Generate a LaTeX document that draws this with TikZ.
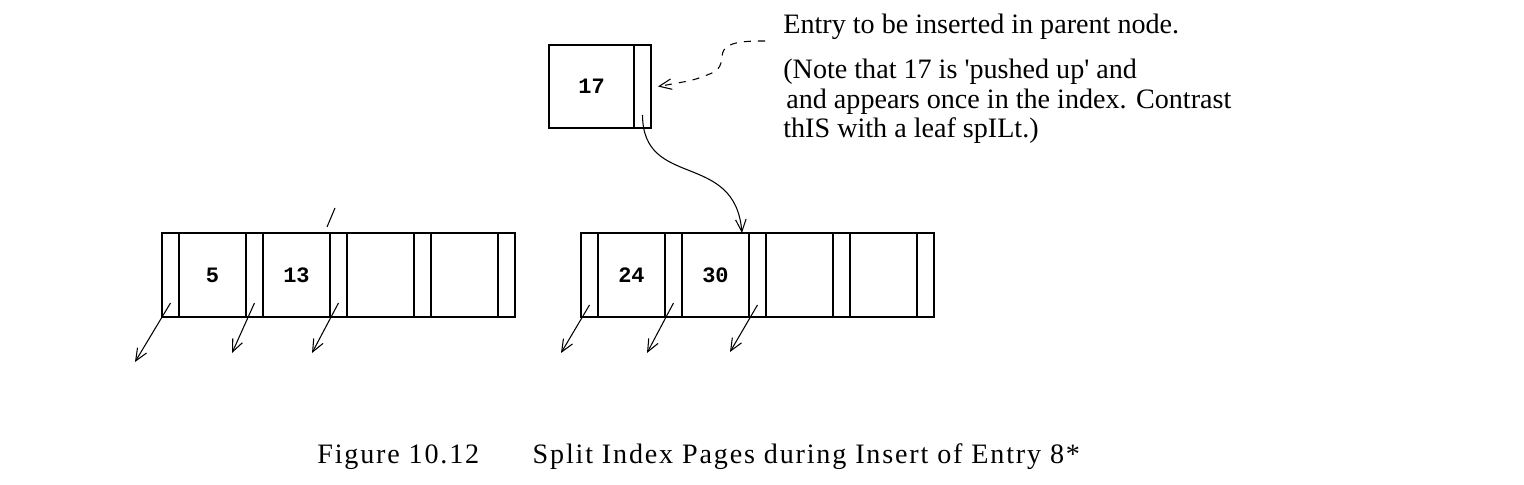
\documentclass[tikz,border=0pt]{standalone}
\usepackage{fontspec}
\setmainfont{Liberation Serif}
\newfontfamily\keyfont{Liberation Mono}
\newfontfamily\capfont[LetterSpace=6.5]{Liberation Serif}
\usepackage{tikz}
\usetikzlibrary{arrows.meta,positioning}
\tikzset{
ptr/.style = {rectangle, draw=black, line width=0.7pt, minimum width=0.34cm,
              minimum height=#1, inner sep=0pt, outer sep=0pt},
ptr/.default = 1.68cm % height of a page
}
\tikzset{
key/.style = {rectangle, draw=black, line width=0.7pt, minimum width=1.34cm,
              minimum height=#1, inner sep=0pt, outer sep=0pt,
              font=\keyfont\bfseries\fontsize{12.5}{14}\selectfont},
key/.default = 1.68cm
}
\tikzset{
child/.style = {-{Straight Barb[length=7pt,width=6pt]}, line width=0.6pt},
note/.style = {anchor=base west, inner sep=0pt, font=\fontsize{16}{19}\selectfont}
}

\begin{document}
\begin{tikzpicture}[x=0.02cm, y=-0.02cm]
    \useasboundingbox (0,0) rectangle (1524,484);

    % entry pushed up
    \node[key=1.66cm, minimum width=1.70cm] (tk) at (591.5,86.5) {17};
    \node[ptr=1.66cm, right=0pt of tk] (tp) {};

    % left index page
    \node[ptr, anchor=west] (lp1) at (162,275) {};
    \node[key, right=0pt of lp1] (lk1) {5};
    \node[ptr, right=0pt of lk1] (lp2) {};
    \node[key, right=0pt of lp2] (lk2) {13};
    \node[ptr, right=0pt of lk2] (lp3) {};
    \node[key, right=0pt of lp3] (lk3) {};
    \node[ptr, right=0pt of lk3] (lp4) {};
    \node[key, right=0pt of lp4] (lk4) {};
    \node[ptr, right=0pt of lk4] (lp5) {};

    % right index page
    \node[ptr, anchor=west] (rp1) at (581,275) {};
    \node[key, right=0pt of rp1] (rk1) {24};
    \node[ptr, right=0pt of rk1] (rp2) {};
    \node[key, right=0pt of rp2] (rk2) {30};
    \node[ptr, right=0pt of rk2] (rp3) {};
    \node[key, right=0pt of rp3] (rk3) {};
    \node[ptr, right=0pt of rk3] (rp4) {};
    \node[key, right=0pt of rp4] (rk4) {};
    \node[ptr, right=0pt of rk4] (rp5) {};

    % text
    \node[note] (entry) at (783,33) {Entry to be inserted in parent node.};
    \node[note] (note1) at (783,78) {(Note that 17 is \textquotesingle pushed up\textquotesingle{} and};
    \node[note] (note2) at (786,108) {and appears once in the index. Contrast};
    \node[note] (note3) at (783,137) {thIS with a leaf spILt.)};
    \node[anchor=base west, inner sep=0pt, font=\capfont\fontsize{16}{19}\selectfont] (caption) at (317,463)
        {Figure 10.12\hspace{1.9em}Split Index Pages during Insert of Entry 8*};

    \coordinate (dashStart) at (765,41);
    \coordinate (la1) at (135,362);
    \coordinate (la2) at (232,353);
    \coordinate (la3) at (312,353);
    \coordinate (ra1) at (561,353);
    \coordinate (ra2) at (647,353);
    \coordinate (ra3) at (730,352);

    \draw[child, dash pattern=on 4pt off 4pt] (dashStart) .. controls (700,40) and (735,62) .. (712,73)
        .. controls (695,80) .. ([xshift=0.14cm]tp.east);
    \draw[child] ([yshift=0.26cm]tp.south) .. controls (643,190) and (735,150) .. ([xshift=-0.14cm]rk2.north east);

    \draw[child] ([yshift=0.28cm]lp1.south) -- (la1);
    \draw[child] ([yshift=0.28cm]lp2.south) -- (la2);
    \draw[child] ([yshift=0.28cm]lp3.south) -- (la3);
    \draw[child] ([yshift=0.24cm]rp1.south) -- (ra1);
    \draw[child] ([yshift=0.28cm]rp2.south) -- (ra2);
    \draw[child] ([yshift=0.24cm]rp3.south) -- (ra3);

    \draw[line width=0.6pt] (327,227) -- (335,208);
\end{tikzpicture}
\end{document}
